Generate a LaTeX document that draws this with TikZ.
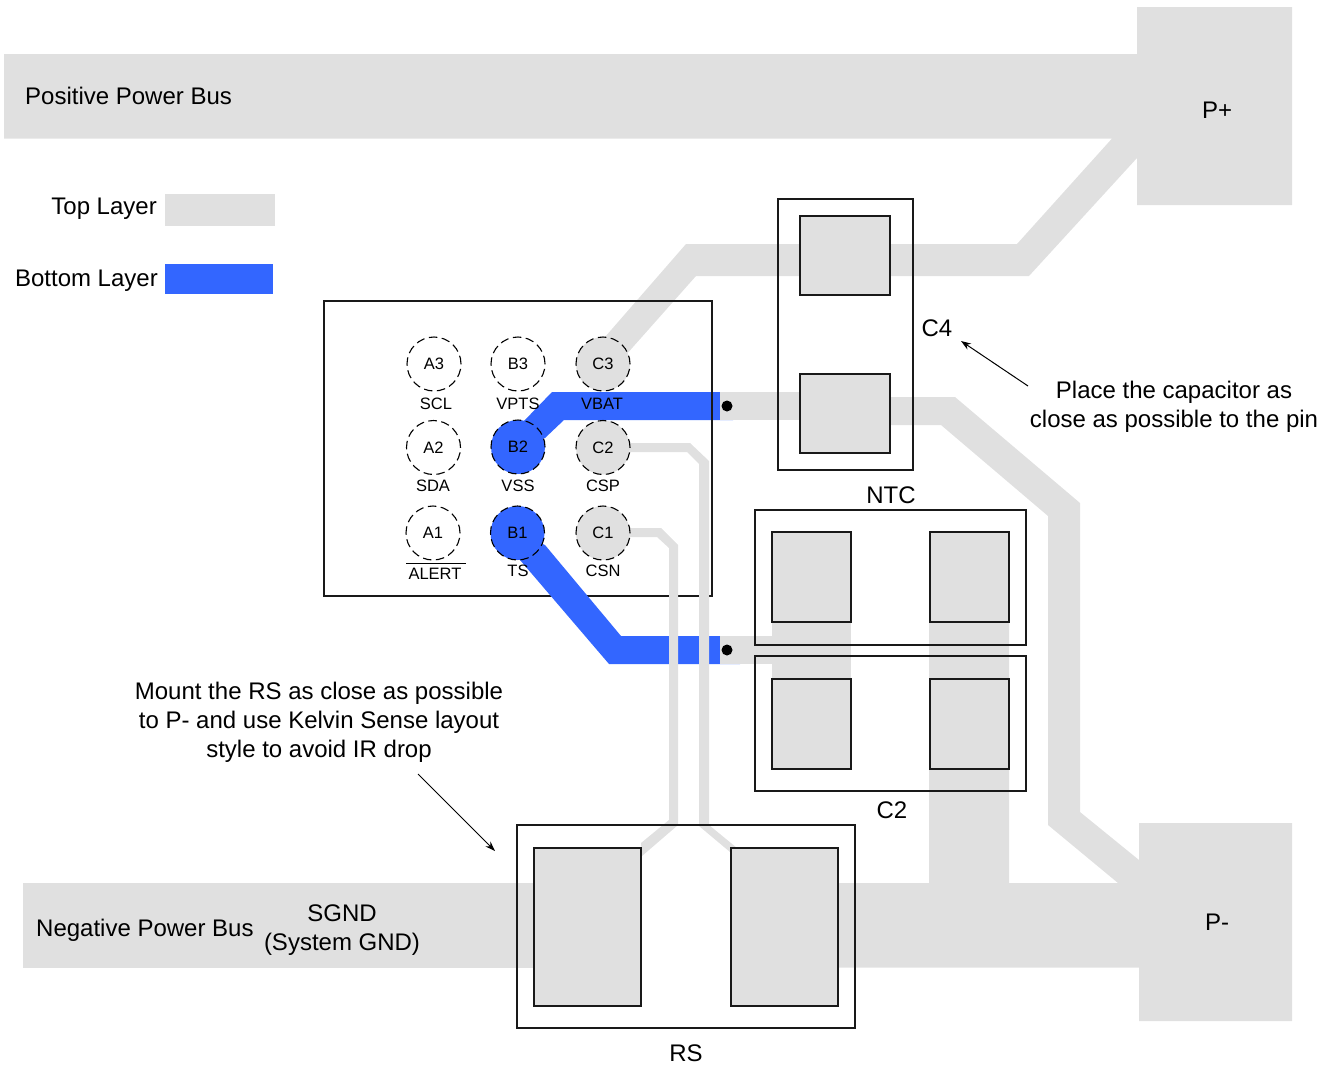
\documentclass[tikz,border=0pt]{standalone}
\usepackage{fontspec}
\setmainfont{Liberation Sans}
\usetikzlibrary{arrows.meta}
\definecolor{layertop}{HTML}{E0E0E0}
\definecolor{layerbot}{HTML}{3366FF}
\tikzset{
  topcu/.style={fill=layertop,draw=none},
  botcu/.style={fill=layerbot,draw=none},
  outline/.style={draw=black!90,line width=1.2pt},
  padbox/.style={draw=black!90,line width=1.2pt,fill=layertop},
  pin/.style={circle,draw=black,dash pattern=on 8.5pt off 4.5pt,line width=1.1pt,minimum size=54pt,inner sep=0pt,font=\fontsize{16.5}{18}\selectfont},
  pinlabel/.style={font=\fontsize{16.5}{18}\selectfont,inner sep=0pt},
  bigtext/.style={font=\fontsize{24}{29}\selectfont,inner sep=0pt,align=center},
  via/.style={circle,fill=black,minimum size=11pt,inner sep=0pt},
  callout/.style={-{Stealth[length=10pt,width=7pt]},line width=1pt}
}
\begin{document}
\begin{tikzpicture}[x=1pt,y=-1pt]
\useasboundingbox (0,0) rectangle (1334,1068);
% top layer copper
\fill[topcu] (4,54)--(1137,54)--(1137,7)--(1292,7)--(1292,205)--(1137,205)--(1137,158)--(1029,276)--(696,276)--(625,356)--(605,337)--(686,244)--(1017,244)--(1112,138.5)--(4,138.5)--cycle;
\fill[topcu] (23,883)--(534,883)--(534,967.5)--(23,967.5)--cycle;
\fill[topcu] (838,883)--(929,883)--(929,622)--(1009,622)--(1009,883)--(1118,883)--(1048,825)--(1048,516)--(941,425)--(890,425)--(890,397)--(955,397)--(1080,503)--(1080,812)--(1139,860)--(1139,823)--(1292,823)--(1292,1021)--(1139,1021)--(1139,967.5)--(838,967.5)--cycle;
\fill[topcu] (929,532) rectangle (1009,800);
\fill[topcu] (772,532) rectangle (851,679);
% bottom layer, upper trace and legend
\fill[botcu] (165,264) rectangle (273,293.5);
\fill[topcu] (165,194) rectangle (275,226);
\fill[botcu] (518,447)--(523,422)--(552,392)--(733,392)--(733,420)--(564,420)--(545,438)--cycle;
% stubs
\fill[topcu] (720,392.3) rectangle (800,419.7);
% IC outline
\node[outline,minimum width=388pt,minimum height=295pt,inner sep=0pt] (ic) at (518,448.5) {};
% bottom layer, lower trace
\fill[botcu] (517,533)--(545,545)--(621,636)--(740,636)--(740,664)--(609,664)--(520,560)--cycle;
\fill[topcu] (720,636.3) rectangle (772,663.8);
% thin sense traces
\fill[topcu] (630,443)--(690,443)--(709,461)--(709,825)--(737,848)--(730,852)--(699,826)--(699,464)--(687,452)--(630,452)--cycle;
\fill[topcu] (630,528)--(661,528)--(678,545)--(678,825)--(642,856)--(641,843)--(669,820)--(669,548)--(657,537)--(630,537)--cycle;
% component outlines and pads
\node[outline,minimum width=135pt,minimum height=271pt,inner sep=0pt] (c4box) at (845.5,334.5) {};
\node[padbox,minimum width=90pt,minimum height=79pt,inner sep=0pt] (c4a) at (845,255.5) {};
\node[padbox,minimum width=90pt,minimum height=79pt,inner sep=0pt] (c4b) at (845,413.5) {};
\node[outline,minimum width=271pt,minimum height=135pt,inner sep=0pt] (ntcbox) at (890.5,577.5) {};
\node[padbox,minimum width=79pt,minimum height=90pt,inner sep=0pt] (ntca) at (811.5,577) {};
\node[padbox,minimum width=79pt,minimum height=90pt,inner sep=0pt] (ntcb) at (969.5,577) {};
\node[outline,minimum width=271pt,minimum height=135pt,inner sep=0pt] (c2box) at (890.5,723.5) {};
\node[padbox,minimum width=79pt,minimum height=90pt,inner sep=0pt] (c2a) at (811.5,724) {};
\node[padbox,minimum width=79pt,minimum height=90pt,inner sep=0pt] (c2b) at (969.5,724) {};
\node[outline,minimum width=338pt,minimum height=203pt,inner sep=0pt] (rsbox) at (686,926.5) {};
\node[padbox,minimum width=107pt,minimum height=158pt,inner sep=0pt] (rsa) at (587.5,927) {};
\node[padbox,minimum width=107pt,minimum height=158pt,inner sep=0pt] (rsb) at (784.5,927) {};
% vias
\node[via] (v1) at (727,406) {};
\node[via] (v2) at (727,650) {};
% pins
\node[pin] (A3) at (434,364) {A3};
\node[pin] (B3) at (518,364) {B3};
\node[pin,fill=layertop] (C3) at (603,364) {C3};
\node[pin] (A2) at (433.5,447.5) {A2};
\node[pin,fill=layerbot] (B2) at (518,447) {B2};
\node[pin,fill=layertop] (C2p) at (603,447.5) {C2};
\node[pin] (A1) at (433,533) {A1};
\node[pin,fill=layerbot] (B1) at (517.5,533) {B1};
\node[pin,fill=layertop] (C1) at (603,533) {C1};
% pin labels
\node[pinlabel] (lscl) at (436,404) {SCL};
\node[pinlabel] (lvpts) at (518,404) {VPTS};
\node[pinlabel] (lvbat) at (602,404) {VBAT};
\node[pinlabel] (lsda) at (433,486) {SDA};
\node[pinlabel] (lvss) at (518,486) {VSS};
\node[pinlabel] (lcsp) at (603,486) {CSP};
\node[pinlabel] (lalert) at (435,574) {ALERT};
\node[pinlabel] (lts) at (518,571) {TS};
\node[pinlabel] (lcsn) at (603,571) {CSN};
\coordinate (ol) at (406,563);
\coordinate (or) at (466,563);
\draw[line width=1pt] (ol)--(or);
% text
\node[bigtext,anchor=west] (tpos) at (25,96) {Positive Power Bus};
\node[bigtext] (tpp) at (1217,110) {P+};
\node[bigtext] (tpm) at (1217,922) {P-};
\node[bigtext,anchor=east] (ttop) at (157,209) {Top Layer};
\node[bigtext,anchor=east] (tbot) at (158,281) {Bottom Layer};
\node[bigtext] (tc4) at (937,328) {C4};
\node[bigtext] (tntc) at (891,495) {NTC};
\node[bigtext] (tc2) at (892,810) {C2};
\node[bigtext] (trs) at (686,1053) {RS};
\node[bigtext,anchor=west] (tneg) at (36,930) {Negative Power Bus};
\node[bigtext] (tsgnd) at (342,930) {SGND\\(System GND)};
\node[bigtext] (tplace) at (1174,406.5) {Place the capacitor as\\close as possible to the pin};
\node[bigtext] (tmount) at (319,722.5) {Mount the RS as close as possible\\to P- and use Kelvin Sense layout\\style to avoid IR drop};
% callouts
\coordinate (a1s) at (1028,386);
\coordinate (a1e) at (961,341);
\coordinate (a2s) at (418,774);
\coordinate (a2e) at (495,851);
\draw[callout] (a1s)--(a1e);
\draw[callout] (a2s)--(a2e);
\end{tikzpicture}
\end{document}
